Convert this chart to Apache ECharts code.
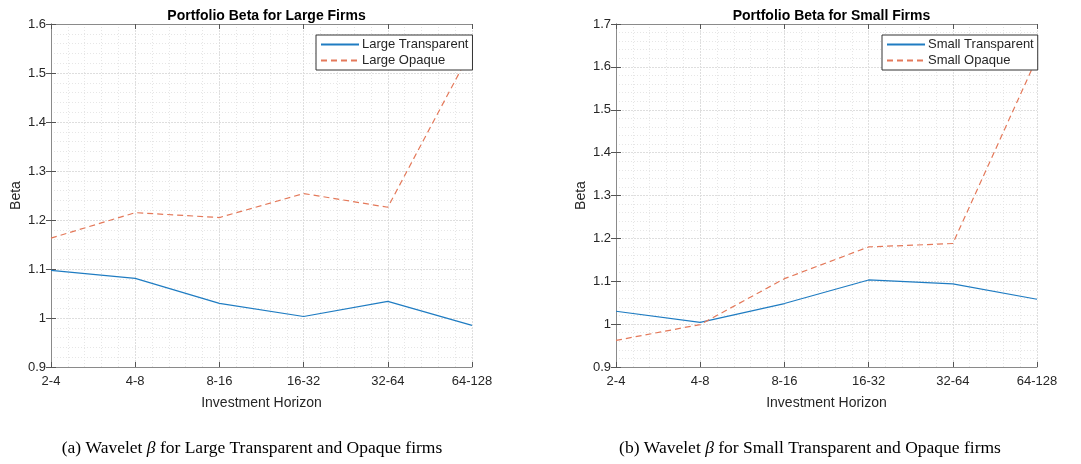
<!DOCTYPE html>
<html><head><meta charset="utf-8">
<script src="https://cdn.jsdelivr.net/npm/echarts@6/dist/echarts.min.js"></script>
<style>html,body{margin:0;padding:0;background:#fff}#c{width:1081px;height:464px}</style>
</head><body><div id="c"></div>
<script>
const categories = ['2-4','4-8','8-16','16-32','32-64','64-128'];
const largeTransparent = [1.097, 1.081, 1.030, 1.003, 1.034, 0.985];
const largeOpaque = [1.163, 1.215, 1.205, 1.254, 1.226, 1.549];
const smallTransparent = [1.030, 1.004, 1.048, 1.103, 1.094, 1.058];
const smallOpaque = [0.962, 0.999, 1.106, 1.180, 1.188, 1.621];
const leftTicks = {min: 0.9, max: 1.6};
const rightTicks = {min: 0.9, max: 1.7};
const titles = ['Portfolio Beta for Large Firms', 'Portfolio Beta for Small Firms'];
const captions = ['(a) Wavelet ', '(b) Wavelet '];
const captionRest = [' for Large Transparent and Opaque firms', ' for Small Transparent and Opaque firms'];

const FONT = "'Liberation Sans', Arial, sans-serif";
const SERIF = "'Liberation Serif', 'Times New Roman', serif";
const BLUE = '#1f7cc2', ORANGE = '#e4795a';
const AX = '#8a8a8a';
const grids = [
  {left: 51, top: 24, width: 421, height: 343},
  {left: 616, top: 24, width: 421, height: 343}
];
function pairs(arr){ return arr.map((v,i)=>[i,v]); }

const xAxes = [], yAxes = [];
[0,1].forEach(g=>{
  xAxes.push({
    type:'value', gridIndex:g, min:0, max:categories.length-1, interval:1,
    name:'Investment Horizon', nameLocation:'middle', nameGap:29,
    nameTextStyle:{fontFamily:FONT, fontSize:14, color:'#262626'},
    axisLine:{lineStyle:{color:AX, width:1}},
    axisTick:{inside:true, length:5, lineStyle:{color:'#555'}},
    axisLabel:{formatter:v=>categories[v]||'', fontFamily:FONT, fontSize:13, color:'#262626', margin:8},
    splitLine:{show:true, lineStyle:{color:'#dedede', width:1, type:[2,1]}},
    minorTick:{show:false, splitNumber:5},
    minorSplitLine:{show:true, lineStyle:{color:'#e6e6e6', width:1, type:[1,2]}}
  });
  xAxes.push({
    type:'value', gridIndex:g, position:'top', min:0, max:categories.length-1, interval:1,
    axisLine:{lineStyle:{color:AX}}, axisTick:{inside:true, length:5, lineStyle:{color:'#555'}},
    axisLabel:{show:false}, splitLine:{show:false}
  });
  const t = g===0 ? leftTicks : rightTicks;
  yAxes.push({
    type:'value', gridIndex:g, min:t.min, max:t.max, interval:0.1,
    name:'Beta', nameLocation:'middle', nameGap:28, nameRotate:90,
    nameTextStyle:{fontFamily:FONT, fontSize:14, color:'#262626'},
    axisLine:{show:true, lineStyle:{color:AX}},
    axisTick:{show:true, inside:true, length:5, lineStyle:{color:'#555'}},
    axisLabel:{formatter:v=>String(Math.round(v*10)/10), fontFamily:FONT, fontSize:13, color:'#262626', margin:5},
    splitLine:{show:true, lineStyle:{color:'#dedede', width:1, type:[2,1]}},
    minorTick:{show:false, splitNumber:5},
    minorSplitLine:{show:true, lineStyle:{color:'#e6e6e6', width:1, type:[1,2]}}
  });
  yAxes.push({
    type:'value', gridIndex:g, position:'right', min:t.min, max:t.max, interval:0.1,
    axisLine:{show:true, lineStyle:{color:AX}},
    axisTick:{show:true, inside:true, length:5, lineStyle:{color:'#555'}},
    axisLabel:{show:false}, splitLine:{show:false}
  });
});

const series = [
  {name:'Large Transparent', data:pairs(largeTransparent), xAxisIndex:0, yAxisIndex:0, color:BLUE, dash:'solid'},
  {name:'Large Opaque', data:pairs(largeOpaque), xAxisIndex:0, yAxisIndex:0, color:ORANGE, dash:[6,4]},
  {name:'Small Transparent', data:pairs(smallTransparent), xAxisIndex:2, yAxisIndex:2, color:BLUE, dash:'solid'},
  {name:'Small Opaque', data:pairs(smallOpaque), xAxisIndex:2, yAxisIndex:2, color:ORANGE, dash:[6,4]}
].map(s=>({
  type:'line', name:s.name, data:s.data, xAxisIndex:s.xAxisIndex, yAxisIndex:s.yAxisIndex,
  showSymbol:false, symbol:'none', animation:false, color:s.color,
  lineStyle:{color:s.color, width:1.2, type:s.dash}
}));

function legend(names, left){
  return {
    data:names, orient:'vertical', left:left, top:35,
    backgroundColor:'#fff', borderColor:'#333', borderWidth:1,
    padding:[3,4,3,4], itemGap:3, itemWidth:38, itemHeight:14,
    itemStyle:{opacity:0},
    textStyle:{fontFamily:FONT, fontSize:13, color:'#262626', padding:[0,0,0,-2]}
  };
}

const option = {
  animation:false,
  backgroundColor:'#fff',
  grid: grids.map(g=>Object.assign({show:true, backgroundColor:'#fff', borderColor:AX, borderWidth:0, containLabel:false}, g)),
  xAxis: xAxes, yAxis: yAxes, series,
  title: titles.map((t,i)=>({
    text:t, left: grids[i].left + grids[i].width/2, top:4, textAlign:'center',
    textStyle:{fontFamily:FONT, fontSize:14, fontWeight:'bold', color:'#000'}
  })),
  legend:[
    legend(['Large Transparent','Large Opaque'], 316),
    legend(['Small Transparent','Small Opaque'], 882)
  ],
  graphic: [0,1].map(i=>({
    type:'text',
    x: i===0 ? 252 : 810, y: 448,
    style:{
      text: captions[i] + '{b|β}' + captionRest[i],
      rich:{b:{fontFamily:SERIF, fontStyle:'italic', fontSize:17.5, fill:'#000'}},
      font:"17.5px " + SERIF, fill:'#000',
      textAlign:'center', textVerticalAlign:'middle'
    }
  }))
};
const chart = echarts.init(document.getElementById('c'), null, {renderer:'canvas'});
chart.setOption(option);
</script></body></html>
